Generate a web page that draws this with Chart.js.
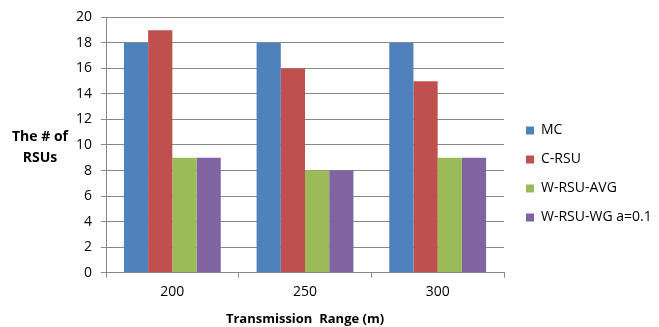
<!DOCTYPE html>
<html>
<head>
<meta charset="utf-8">
<script src="https://cdn.jsdelivr.net/npm/chart.js@4.4.0/dist/chart.umd.min.js"></script>
<style>
  html, body { margin: 0; padding: 0; background: #fff; }
  #wrap { width: 659px; height: 327px; position: relative; }
</style>
</head>
<body>
<div id="wrap"><canvas id="rsuChart"></canvas></div>
<script>
// Chart data
const ranges = ['200', '250', '300'];
const mcValues = [18, 18, 18];
const cRsuValues = [19, 16, 15];
const wRsuAvgValues = [9, 8, 9];
const wRsuWgValues = [9, 8, 9];
const yTitleLines = ['The # of', 'RSUs'];

// Horizontal y axis title (Excel style)
const yTitlePlugin = {
    id: 'yTitle',
    afterDraw(chart) {
        const ctx = chart.ctx;
        ctx.save();
        ctx.font = 'bold 14px "Open Sans"';
        ctx.fillStyle = '#000';
        ctx.textAlign = 'center';
        ctx.textBaseline = 'middle';
        ctx.fillText(yTitleLines[0], 40, 137);
        ctx.fillText(yTitleLines[1], 40, 158);
        ctx.restore();
    }
};

// Leave a wider gap between plot area and legend, nudge legend down a bit
const legendGap = 7;
const legendDrop = 4;
const legendGapPlugin = {
    id: 'legendGap',
    beforeInit(chart) {
        const origFit = chart.legend.fit;
        chart.legend.fit = function() {
            origFit.bind(chart.legend)();
            this.width += legendGap;
        };
    },
    afterLayout(chart) {
        chart.legend.left += legendGap;
        chart.legend.top += legendDrop;
        chart.legend.bottom += legendDrop;
    }
};

const ctx = document.getElementById('rsuChart');
new Chart(ctx, {
    type: 'bar',
    data: {
        labels: ranges,
        datasets: [
            { label: 'MC', data: mcValues, backgroundColor: '#4F81BD' },
            { label: 'C-RSU', data: cRsuValues, backgroundColor: '#C0504D' },
            { label: 'W-RSU-AVG', data: wRsuAvgValues, backgroundColor: '#9BBB59' },
            { label: 'W-RSU-WG a=0.1', data: wRsuWgValues, backgroundColor: '#8064A2' }
        ]
    },
    options: {
        responsive: true,
        maintainAspectRatio: false,
        animation: false,
        categoryPercentage: 0.73,
        barPercentage: 1,
        layout: {
            padding: { left: 67, top: 13, right: 0, bottom: 0 }
        },
        plugins: {
            legend: {
                position: 'right',
                labels: {
                    boxWidth: 8,
                    boxHeight: 8,
                    padding: 15,
                    color: '#000',
                    font: { family: 'Open Sans', size: 14 }
                }
            },
            tooltip: { enabled: false }
        },
        scales: {
            x: {
                grid: {
                    offset: true,
                    drawOnChartArea: false,
                    color: '#888',
                    tickLength: 5
                },
                border: { color: '#888' },
                ticks: {
                    color: '#000',
                    padding: 6,
                    font: { family: 'Open Sans', size: 14 }
                },
                title: {
                    display: true,
                    text: 'Transmission  Range (m)',
                    color: '#000',
                    padding: { top: 5, bottom: 0 },
                    font: { family: 'Open Sans', size: 13, weight: 'bold' }
                }
            },
            y: {
                min: 0,
                max: 20,
                grid: {
                    color: '#888',
                    tickLength: 5
                },
                border: { color: '#888' },
                ticks: {
                    stepSize: 2,
                    color: '#000',
                    padding: 9,
                    font: { family: 'Open Sans', size: 14 }
                }
            }
        }
    },
    plugins: [yTitlePlugin, legendGapPlugin]
});
</script>
</body>
</html>
